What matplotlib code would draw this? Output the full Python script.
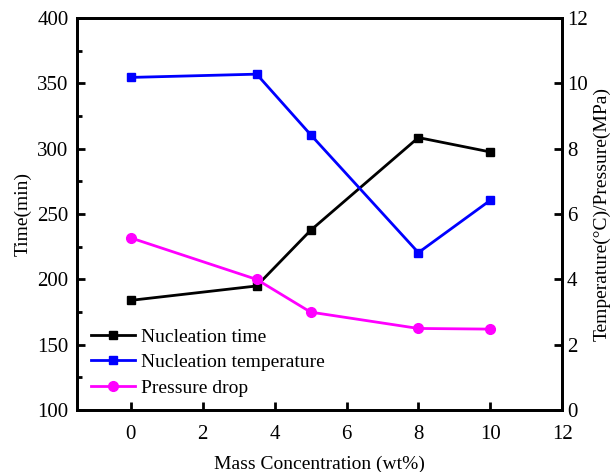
import numpy as np
import matplotlib
matplotlib.use('Agg')
from matplotlib import pyplot as plt
from matplotlib.ticker import MultipleLocator

plt.rcParams['font.family'] = ['Liberation Serif', 'DejaVu Serif']

conc = [0, 3.5, 5, 8, 10]
nuc_time = [184, 195, 237.5, 308.5, 297.5]
nuc_temp = [10.18, 10.28, 8.43, 4.82, 6.42]
p_drop = [5.27, 4.0, 3.0, 2.5, 2.48]

fig = plt.figure(figsize=(6.11, 4.72), dpi=100)
ax = fig.add_axes([0.126, 0.131, 0.794, 0.831])
ax2 = ax.twinx()

l1, = ax.plot(conc, nuc_time, color='black', marker='s', ms=6, lw=2, label='Nucleation time')
l2, = ax2.plot(conc, nuc_temp, color='#0000ff', marker='s', ms=6, lw=2, label='Nucleation temperature')
l3, = ax2.plot(conc, p_drop, color='#ff00ff', marker='o', ms=7, lw=2, label='Pressure drop')

ax.set_xlim(-1.5, 12)
ax.set_ylim(100, 400)
ax2.set_ylim(0, 12)
ax.xaxis.set_major_locator(MultipleLocator(2))
ax.yaxis.set_major_locator(MultipleLocator(50))
ax.yaxis.set_minor_locator(MultipleLocator(25))
ax2.yaxis.set_major_locator(MultipleLocator(2))

for a in (ax, ax2):
    for s in a.spines.values():
        s.set_linewidth(2)
    a.tick_params(direction='in', width=2, length=6, labelsize=15)
    a.tick_params(which='minor', direction='in', width=2, length=3.5)
ax.tick_params(axis='x', pad=11)
ax.tick_params(axis='y', pad=6)

ax.set_xlabel('Mass Concentration (wt%)', fontsize=14, labelpad=8)
ax.set_ylabel('Time(min)', fontsize=14, labelpad=4)
ax2.set_ylabel('Temperature(°C)/Pressure(MPa)', fontsize=14, labelpad=4)

ax.legend(handles=[l1, l2, l3], loc='lower left', bbox_to_anchor=(0.0, 0.0),
          frameon=False, fontsize=14, handlelength=2.3, handletextpad=0.3,
          labelspacing=0.4, borderaxespad=0.3)

fig.savefig('out.png', dpi=100)
